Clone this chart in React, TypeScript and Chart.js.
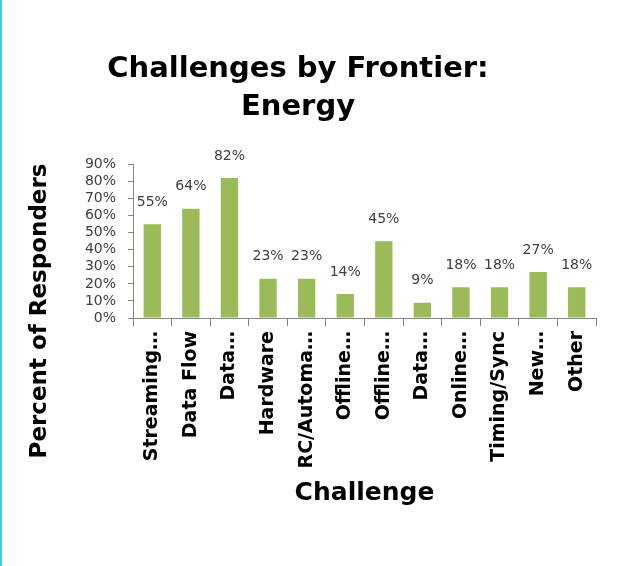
import React, { useEffect, useRef } from "react";
import { Chart, registerables } from "chart.js";

Chart.register(...registerables);

const categories = [
  "Streaming…",
  "Data Flow",
  "Data…",
  "Hardware",
  "RC/Automa…",
  "Offline…",
  "Offline…",
  "Data…",
  "Online…",
  "Timing/Sync",
  "New…",
  "Other",
];
const percentValues = [55, 64, 82, 23, 23, 14, 45, 9, 18, 18, 27, 18];
const titleLines = ["Challenges by Frontier:", "Energy"];
const yAxisTitle = "Percent of Responders";
const xAxisTitle = "Challenge";

const W = 638;
const H = 566;

const labelPlugin = {
  id: "valueLabels",
  afterDraw(chart: any) {
    const ctx = chart.ctx;
    const meta = chart.getDatasetMeta(0);
    ctx.save();
    ctx.font = "14px 'DejaVu Sans'";
    ctx.fillStyle = "#404040";
    ctx.textAlign = "center";
    ctx.textBaseline = "middle";
    meta.data.forEach((bar: any, i: number) => {
      ctx.fillText(percentValues[i] + "%", bar.x, bar.y - 22);
    });
    ctx.font = "bold 23px 'DejaVu Sans'";
    ctx.fillStyle = "#000";
    ctx.translate(40, 311);
    ctx.rotate(-Math.PI / 2);
    ctx.fillText(yAxisTitle, 0, 0);
    ctx.restore();
  },
};

export default function App() {
  const ref = useRef<HTMLCanvasElement | null>(null);
  useEffect(() => {
    if (!ref.current) return;
    const chart = new Chart(ref.current, {
      type: "bar",
      data: {
        labels: categories,
        datasets: [
          {
            data: percentValues,
            backgroundColor: "#9BBB59",
            borderWidth: 0,
            barPercentage: 0.45,
            categoryPercentage: 1,
          },
        ],
      },
      options: {
        animation: false,
        responsive: false,
        maintainAspectRatio: false,
        layout: { padding: { left: 0, right: 42, top: 0, bottom: 0 } },
        plugins: {
          legend: { display: false },
          tooltip: { enabled: false },
          title: {
            display: true,
            text: titleLines,
            color: "#000",
            font: { family: "'DejaVu Sans'", size: 29, weight: "bold", lineHeight: 1.3 },
            padding: { top: 51, bottom: 38 },
          },
        },
        scales: {
          x: {
            grid: {
              display: true,
              drawOnChartArea: false,
              drawTicks: true,
              tickLength: 8,
              color: "#868686",
              offset: true,
            },
            border: { display: true, color: "#868686", width: 1 },
            ticks: {
              autoSkip: false,
              minRotation: 90,
              maxRotation: 90,
              padding: 5,
              color: "#000",
              font: { family: "'DejaVu Sans'", size: 19, weight: "bold" },
            },
            title: {
              display: true,
              text: xAxisTitle,
              color: "#000",
              font: { family: "'DejaVu Sans'", size: 25, weight: "bold" },
              padding: { top: 0, bottom: 58 },
            },
            afterFit(scale: any) {
              scale.height = H - 318;
            },
          },
          y: {
            min: 0,
            max: 90,
            ticks: {
              stepSize: 10,
              autoSkip: false,
              padding: 12,
              color: "#404040",
              font: { family: "'DejaVu Sans'", size: 14 },
              callback: (v: any) => v + "%",
            },
            grid: {
              display: true,
              drawOnChartArea: false,
              drawTicks: true,
              tickLength: 5,
              color: "#868686",
            },
            border: { display: true, color: "#868686", width: 1 },
            afterFit(scale: any) {
              scale.width = 133;
            },
          },
        },
      },
      plugins: [labelPlugin],
    });
    return () => chart.destroy();
  }, []);
  return (
    <div style={{ position: "fixed", left: 0, top: 0, width: W, height: H, background: "#fff" }}>
      <canvas ref={ref} width={W} height={H} style={{ display: "block", width: W, height: H }} />
      <div style={{ position: "absolute", left: 0, top: 0, width: 2, height: H, background: "#4EC7DC" }} />
    </div>
  );
}
